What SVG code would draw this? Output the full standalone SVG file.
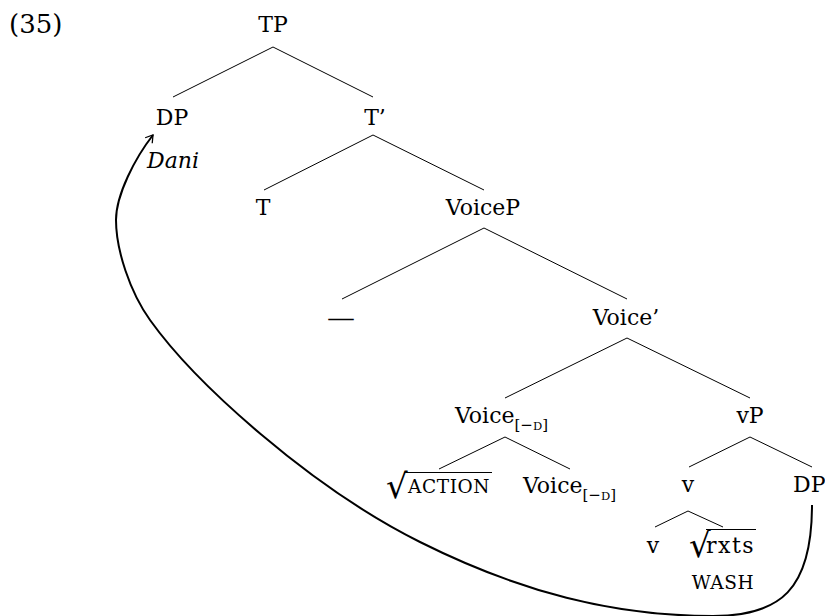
<svg xmlns="http://www.w3.org/2000/svg" width="825" height="616" viewBox="0 0 825 616">
<defs>
<style>
text{font-family:"DejaVu Serif","Liberation Serif",serif;font-size:22px;fill:#000}
.m{text-anchor:middle}
.sc{font-size:18.5px;letter-spacing:0.6px}
.sub{font-size:15px}
.subd{font-size:11.5px}
.rad{font-size:34px;letter-spacing:-12px}
.e line{stroke:#000;stroke-width:1}
</style>
<marker id="ah" markerWidth="12" markerHeight="12" refX="0" refY="0" viewBox="-8 -6 10 12" orient="auto" markerUnits="userSpaceOnUse">
<path d="M-7,-4.5 L0,0 L-7,4.5" fill="none" stroke="#000" stroke-width="1.3"/>
</marker>
</defs>
<rect width="825" height="616" fill="#fff"/>
<text x="9" y="33" style="font-size:26px">(35)</text>
<g class="e" id="edges">
<line x1="273" y1="47" x2="173" y2="97"/>
<line x1="273" y1="47" x2="373" y2="97"/>
<line x1="373" y1="135" x2="264" y2="190"/>
<line x1="373" y1="135" x2="484" y2="190"/>
<line x1="484" y1="228" x2="342" y2="299"/>
<line x1="484" y1="228" x2="627" y2="299"/>
<line x1="627" y1="338" x2="505" y2="398"/>
<line x1="627" y1="338" x2="750" y2="398"/>
<line x1="505" y1="437" x2="439" y2="469"/>
<line x1="505" y1="437" x2="570" y2="469"/>
<line x1="750" y1="437" x2="689" y2="467"/>
<line x1="750" y1="437" x2="812" y2="467"/>
<line x1="688" y1="511" x2="655" y2="527"/>
<line x1="688" y1="511" x2="723" y2="527"/>
<path d="M812,505 C812,590 780,616 713,616 C613,616 520,592 420,542 C310,487 195,383 150,320 C130,292 116,250 116,220 C116,195 135,158 153,135" fill="none" stroke="#000" stroke-width="2" marker-end="url(#ah)"/>
</g>
<g id="n-TP"><text class="m" x="273" y="32">TP</text></g>
<g id="n-DP"><text class="m" x="172" y="125">DP</text><text x="147" y="168" style="font-style:italic">Dani</text></g>
<g id="n-Tbar"><text class="m" x="375" y="125">T’</text></g>
<g id="n-T"><text class="m" x="263" y="215">T</text></g>
<g id="n-VoiceP"><text class="m" x="483" y="215">VoiceP</text></g>
<g id="n-dash"><text x="327" y="326" textLength="28" lengthAdjust="spacingAndGlyphs">—</text></g>
<g id="n-Voicebar"><text class="m" x="626" y="325">Voice’</text></g>
<g id="n-VoiceD"><text x="455" y="423">Voice<tspan class="sub" dy="7">[−<tspan class="subd">D</tspan>]</tspan></text></g>
<g id="n-action"><line x1="404" y1="472.5" x2="492" y2="472.5" stroke="#000" stroke-width="1.2"/><text><tspan class="rad" x="386" y="498">√</tspan><tspan class="sc" x="408" y="493">ACTION</tspan></text></g>
<g id="n-VoiceD2"><text x="523" y="493">Voice<tspan class="sub" dy="7">[−<tspan class="subd">D</tspan>]</tspan></text></g>
<g id="n-vP"><text class="m" x="750" y="423">vP</text></g>
<g id="n-v"><text class="m" x="688" y="492">v</text></g>
<g id="n-DP2"><text x="793" y="492">DP</text></g>
<g id="n-v2"><text class="m" x="653" y="553">v</text></g>
<g id="n-rxts"><line x1="706" y1="529.5" x2="756" y2="529.5" stroke="#000" stroke-width="1.2"/><text><tspan class="rad" x="689" y="557">√</tspan><tspan x="706" y="553" style="letter-spacing:1.5px">rxts</tspan></text><text class="sc m" x="723" y="589">WASH</text></g>
</svg>
